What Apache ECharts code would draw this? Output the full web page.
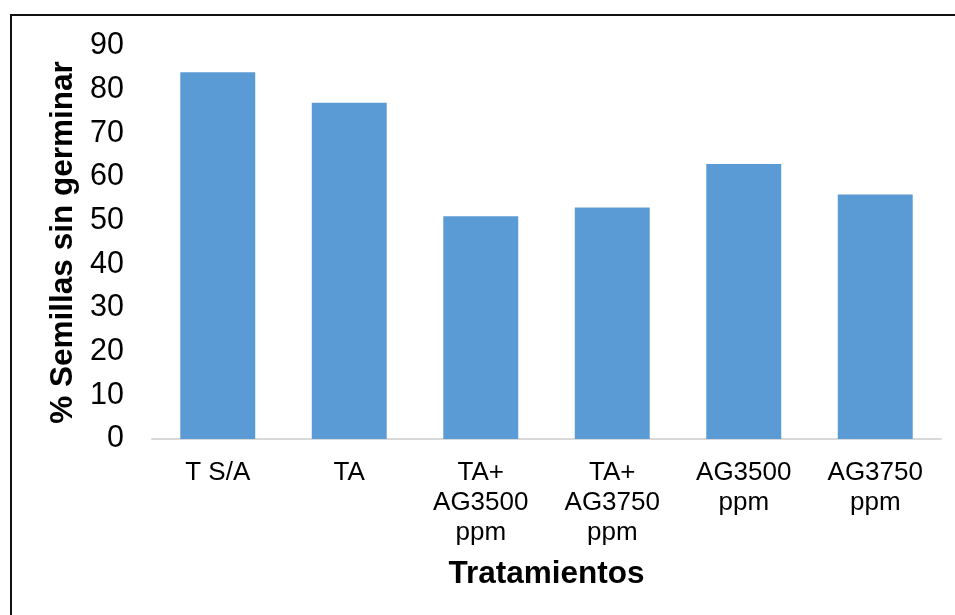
<!DOCTYPE html>
<html>
<head>
<meta charset="utf-8">
<script src="https://cdn.jsdelivr.net/npm/echarts@6/dist/echarts.min.js"></script>
<style>
  html, body { margin: 0; padding: 0; background: #fff; }
  #chart { width: 955px; height: 615px; }
</style>
</head>
<body>
<div id="chart"></div>
<script>
// Treatments and the share of seeds that did not germinate
const categories = ['T S/A', 'TA', 'TA+\nAG3500\nppm', 'TA+\nAG3750\nppm', 'AG3500\nppm', 'AG3750\nppm'];
const sinGerminar = [84, 77, 51, 53, 63, 56];
const yTicks = [0, 10, 20, 30, 40, 50, 60, 70, 80, 90];

const font = 'Liberation Sans, Arial, sans-serif';
const chart = echarts.init(document.getElementById('chart'), null, { renderer: 'canvas' });

chart.setOption({
  animation: false,
  backgroundColor: '#ffffff',
  graphic: [{
    type: 'rect',
    shape: { x: 11, y: 15, width: 980, height: 640 },
    style: { fill: 'none', stroke: '#111', lineWidth: 2 },
    z: 100
  }],
  grid: { left: 152, right: 14, top: 46, bottom: 176, containLabel: false },
  xAxis: {
    type: 'category',
    data: categories,
    name: 'Tratamientos',
    nameLocation: 'middle',
    nameGap: 119,
    nameTextStyle: { fontFamily: font, fontSize: 31.5, fontWeight: 'bold', color: '#000' },
    axisLine: { lineStyle: { color: '#d9d9d9', width: 2 } },
    axisTick: { show: false },
    axisLabel: { fontFamily: font, fontSize: 26, color: '#000', lineHeight: 30, margin: 19, interval: 0 }
  },
  yAxis: {
    type: 'value',
    min: yTicks[0],
    max: yTicks[yTicks.length - 1],
    interval: 10,
    name: '% Semillas sin germinar',
    nameLocation: 'middle',
    nameGap: 69,
    nameTextStyle: { fontFamily: font, fontSize: 31.5, fontWeight: 'bold', color: '#000' },
    axisLine: { show: false },
    axisTick: { show: false },
    splitLine: { show: false },
    axisLabel: { fontFamily: font, fontSize: 30.5, color: '#000', margin: 28 }
  },
  series: [{
    type: 'bar',
    data: sinGerminar,
    barWidth: '57%',
    itemStyle: { color: '#5b9bd5' }
  }]
});
</script>
</body>
</html>
